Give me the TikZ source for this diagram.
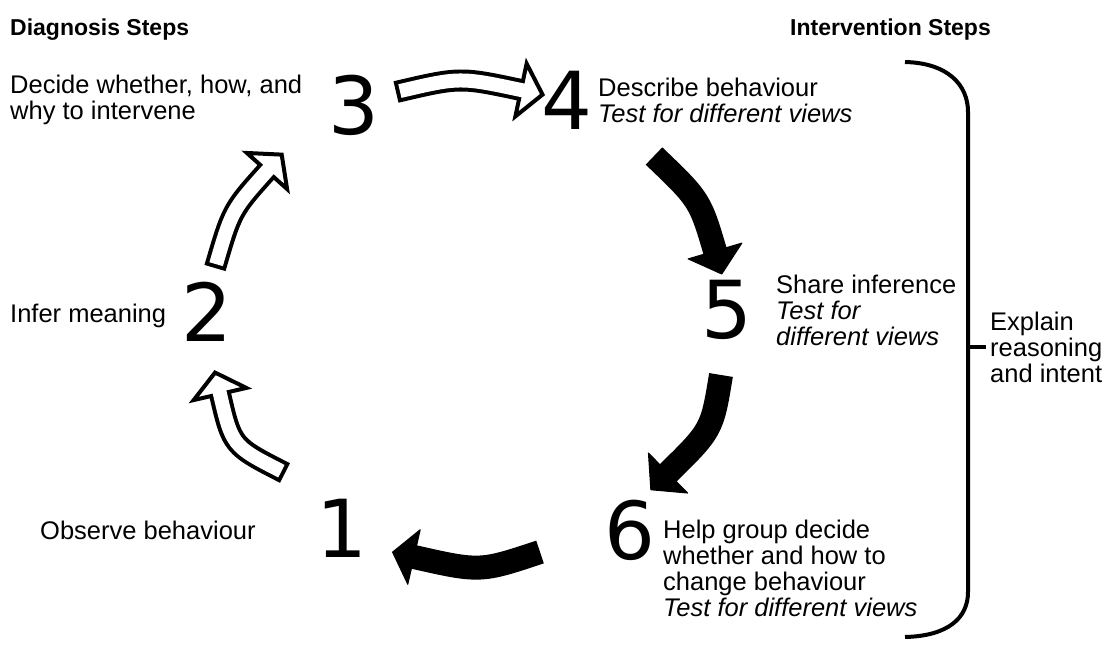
\documentclass[tikz,border=0pt]{standalone}
\usepackage{fontspec}
\setmainfont{Liberation Sans}
\newfontfamily\digitfont{DejaVu Sans}
\usetikzlibrary{calc}
\tikzset{
  txt/.style={anchor=west, inner sep=0pt, align=left, font=\fontsize{25.5}{26}\selectfont},
  hdr/.style={txt, font=\fontsize{23}{26}\selectfont\bfseries},
  num/.style={inner sep=0pt, font=\digitfont\fontsize{80}{80}\selectfont},
  shaft/.style={line width=22pt},
  hollow/.style={white, line width=14pt, shorten <=4pt, shorten >=-3pt},
  openhead/.style={fill=white, draw=black, line width=4pt, line join=miter},
  solidshaft/.style={line width=24pt, shorten >=-2pt},
  solidhead/.style={fill=black, draw=black, line width=1pt, line join=round},
  brace/.style={line width=4pt}
}

\begin{document}
\begin{tikzpicture}[x=1pt, y=-1pt]
  \useasboundingbox (0,0) rectangle (1119,669);

  % headings
  \node[hdr] (diag) at (10,30) {Diagnosis Steps};
  \node[hdr] (interv) at (790,30) {Intervention Steps};

  % step numbers
  \node[num] (s1) at (342,528) {1};
  \node[num] (s2) at (207,312) {2};
  \node[num] (s3) at (354,105) {3};
  \node[num] (s4) at (567,100) {4};
  \node[num] (s5) at (727,310) {5};
  \node[num] (s6) at (630,530) {6};

  % step texts
  \node[txt] (d1) at (40,530) {Observe behaviour};
  \node[txt] (d2) at (10,316) {Infer meaning};
  \node[txt] (d3) at (10,100) {Decide whether, how, and\\why to intervene};
  \node[txt] (d4) at (598,100) {Describe behaviour\\\textit{Test for different views}};
  \node[txt] (d5) at (776,310) {Share inference\\\textit{Test for}\\\textit{different views}};
  \node[txt] (d6) at (663,568) {Help group decide\\whether and how to\\change behaviour\\\textit{Test for different views}};
  \node[txt] (expl) at (990,347) {Explain\\reasoning\\and intent};

  % diagnosis arrows (open)
  \coordinate (a12) at (285,473);
  \coordinate (c12) at (232,446);
  \coordinate (n12) at (220,394);
  \coordinate (p12) at ($(n12)!-22pt!(c12)$);
  \draw[shaft] (a12) .. controls (c12) .. (n12);
  \draw[openhead] ($(n12)!27pt!90:(p12)$) -- (p12) -- ($(n12)!27pt!-90:(p12)$) -- cycle;
  \draw[hollow] (a12) .. controls (c12) .. (n12);

  \coordinate (a23) at (215,268);
  \coordinate (c23) at (232,210);
  \coordinate (n23) at (267,171);
  \coordinate (p23) at ($(n23)!-22pt!(c23)$);
  \draw[shaft] (a23) .. controls (c23) .. (n23);
  \draw[openhead] ($(n23)!27pt!90:(p23)$) -- (p23) -- ($(n23)!27pt!-90:(p23)$) -- cycle;
  \draw[hollow] (a23) .. controls (c23) .. (n23);

  \coordinate (a34) at (396,92);
  \coordinate (c34) at (460,77);
  \coordinate (n34) at (521,90);
  \coordinate (p34) at ($(n34)!-22pt!(c34)$);
  \draw[shaft] (a34) .. controls (c34) .. (n34);
  \draw[openhead] ($(n34)!27pt!90:(p34)$) -- (p34) -- ($(n34)!27pt!-90:(p34)$) -- cycle;
  \draw[hollow] (a34) .. controls (c34) .. (n34);

  % intervention arrows (solid)
  \coordinate (a45) at (654,156);
  \coordinate (c45) at (700,200);
  \coordinate (n45) at (715,251);
  \coordinate (p45) at ($(n45)!-24pt!(c45)$);
  \draw[solidshaft] (a45) .. controls (c45) .. (n45);
  \filldraw[solidhead] ($(n45)!28pt!90:(p45)$) -- (p45) -- ($(n45)!28pt!-90:(p45)$) -- cycle;

  \coordinate (a56) at (721,375);
  \coordinate (c56) at (712,430);
  \coordinate (n56) at (668,473);
  \coordinate (p56) at ($(n56)!-24pt!(c56)$);
  \draw[solidshaft] (a56) .. controls (c56) .. (n56);
  \filldraw[solidhead] ($(n56)!28pt!90:(p56)$) -- (p56) -- ($(n56)!28pt!-90:(p56)$) -- cycle;

  \coordinate (a61) at (540,552);
  \coordinate (c61) at (480,572);
  \coordinate (n61) at (414,557);
  \coordinate (p61) at ($(n61)!-22pt!(c61)$);
  \draw[solidshaft] (a61) .. controls (c61) .. (n61);
  \filldraw[solidhead] ($(n61)!28pt!90:(p61)$) -- (p61) -- ($(n61)!28pt!-90:(p61)$) -- cycle;

  % bracket
  \coordinate (btop) at (905,62);
  \coordinate (bbot) at (905,637);
  \coordinate (bmid) at (968,347);
  \coordinate (btick) at (986,347);
  \draw[brace] (btop) .. controls (948,63) and (968,85) .. (968,112)
    -- (968,592) .. controls (968,618) and (948,636) .. (bbot);
  \draw[brace] (bmid) -- (btick);
\end{tikzpicture}
\end{document}
